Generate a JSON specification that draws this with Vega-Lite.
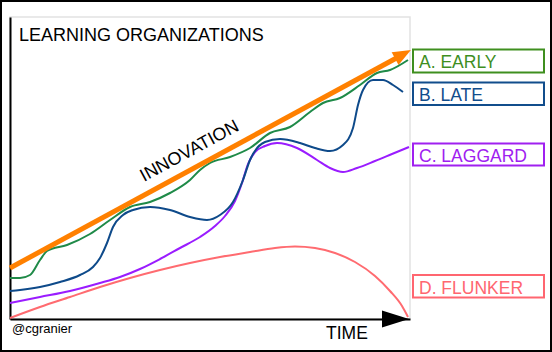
{
  "$schema": "https://vega.github.io/schema/vega-lite/v6.json",
  "width": 400,
  "height": 302,
  "autosize": {"type": "none"},
  "padding": {"left": 10, "top": 17, "right": 142, "bottom": 33},
  "background": "white",
  "config": {"view": {"stroke": "#e2e2e2", "strokeWidth": 1.5}, "font": "Liberation Sans"},
  "layer": [
    {
      "data": {"values": [
        {"series": "D", "t": 0, "v": 1}, {"series": "D", "t": 30, "v": 12}, {"series": "D", "t": 60, "v": 22}, {"series": "D", "t": 90, "v": 32}, {"series": "D", "t": 120, "v": 41}, {"series": "D", "t": 150, "v": 49}, {"series": "D", "t": 180, "v": 56}, {"series": "D", "t": 210, "v": 62}, {"series": "D", "t": 240, "v": 67}, {"series": "D", "t": 265, "v": 71}, {"series": "D", "t": 285, "v": 72.5}, {"series": "D", "t": 305, "v": 71}, {"series": "D", "t": 325, "v": 66}, {"series": "D", "t": 345, "v": 57}, {"series": "D", "t": 365, "v": 43}, {"series": "D", "t": 380, "v": 28}, {"series": "D", "t": 392, "v": 13}, {"series": "D", "t": 398, "v": 2},
        {"series": "C", "t": 0, "v": 16}, {"series": "C", "t": 30, "v": 22}, {"series": "C", "t": 60, "v": 28}, {"series": "C", "t": 90, "v": 36}, {"series": "C", "t": 110, "v": 42}, {"series": "C", "t": 130, "v": 50}, {"series": "C", "t": 150, "v": 60}, {"series": "C", "t": 170, "v": 71}, {"series": "C", "t": 190, "v": 82}, {"series": "C", "t": 205, "v": 93}, {"series": "C", "t": 215, "v": 103}, {"series": "C", "t": 225, "v": 118}, {"series": "C", "t": 232, "v": 136}, {"series": "C", "t": 238, "v": 155}, {"series": "C", "t": 245, "v": 167}, {"series": "C", "t": 255, "v": 173}, {"series": "C", "t": 267, "v": 176}, {"series": "C", "t": 287, "v": 171}, {"series": "C", "t": 307, "v": 159}, {"series": "C", "t": 320, "v": 151}, {"series": "C", "t": 333, "v": 147}, {"series": "C", "t": 347, "v": 151}, {"series": "C", "t": 365, "v": 158}, {"series": "C", "t": 382, "v": 165}, {"series": "C", "t": 399, "v": 172},
        {"series": "B", "t": 0, "v": 28}, {"series": "B", "t": 10, "v": 29}, {"series": "B", "t": 30, "v": 32}, {"series": "B", "t": 50, "v": 37}, {"series": "B", "t": 70, "v": 44}, {"series": "B", "t": 83, "v": 52}, {"series": "B", "t": 90, "v": 61}, {"series": "B", "t": 97, "v": 76}, {"series": "B", "t": 103, "v": 92}, {"series": "B", "t": 113, "v": 104}, {"series": "B", "t": 123, "v": 109}, {"series": "B", "t": 140, "v": 112}, {"series": "B", "t": 160, "v": 109}, {"series": "B", "t": 180, "v": 102}, {"series": "B", "t": 197, "v": 99}, {"series": "B", "t": 210, "v": 104}, {"series": "B", "t": 223, "v": 117}, {"series": "B", "t": 233, "v": 139}, {"series": "B", "t": 240, "v": 159}, {"series": "B", "t": 255, "v": 177}, {"series": "B", "t": 270, "v": 180}, {"series": "B", "t": 290, "v": 176}, {"series": "B", "t": 305, "v": 171}, {"series": "B", "t": 320, "v": 168}, {"series": "B", "t": 333, "v": 174}, {"series": "B", "t": 343, "v": 191}, {"series": "B", "t": 348, "v": 214}, {"series": "B", "t": 353, "v": 229}, {"series": "B", "t": 363, "v": 239}, {"series": "B", "t": 373, "v": 239}, {"series": "B", "t": 383, "v": 234}, {"series": "B", "t": 393, "v": 227},
        {"series": "A", "t": 0, "v": 41}, {"series": "A", "t": 10, "v": 41}, {"series": "A", "t": 20, "v": 44}, {"series": "A", "t": 30, "v": 59}, {"series": "A", "t": 37, "v": 68}, {"series": "A", "t": 57, "v": 74}, {"series": "A", "t": 80, "v": 85}, {"series": "A", "t": 100, "v": 99}, {"series": "A", "t": 120, "v": 112}, {"series": "A", "t": 140, "v": 117}, {"series": "A", "t": 160, "v": 126}, {"series": "A", "t": 180, "v": 139}, {"series": "A", "t": 190, "v": 149}, {"series": "A", "t": 200, "v": 156}, {"series": "A", "t": 220, "v": 162}, {"series": "A", "t": 240, "v": 171}, {"series": "A", "t": 260, "v": 186}, {"series": "A", "t": 280, "v": 192}, {"series": "A", "t": 300, "v": 207}, {"series": "A", "t": 313, "v": 216}, {"series": "A", "t": 330, "v": 221}, {"series": "A", "t": 350, "v": 234}, {"series": "A", "t": 367, "v": 246}, {"series": "A", "t": 380, "v": 249}, {"series": "A", "t": 398, "v": 259}
      ]},
      "mark": {"type": "line", "strokeWidth": 2, "interpolate": "monotone"},
      "encoding": {
        "x": {"field": "t", "type": "quantitative", "scale": {"domain": [0, 400], "nice": false, "zero": false}, "axis": {"domain": true, "domainColor": "black", "domainWidth": 2, "ticks": false, "labels": false, "grid": false, "title": null}},
        "y": {"field": "v", "type": "quantitative", "scale": {"domain": [0, 302], "nice": false, "zero": false}, "axis": {"domain": true, "domainColor": "black", "domainWidth": 2, "ticks": false, "labels": false, "grid": false, "title": null}},
        "color": {"field": "series", "type": "nominal", "scale": {"domain": ["A", "B", "C", "D"], "range": ["#1f8a48", "#0e4a8a", "#9a1cff", "#ff6b70"]}, "legend": null},
        "order": {"value": 0}
      }
    },
    {
      "data": {"values": [{"t": 0, "v": 51}, {"t": 392, "v": 264}]},
      "mark": {"type": "line", "strokeWidth": 5, "color": "#ff8000"},
      "encoding": {"x": {"field": "t", "type": "quantitative"}, "y": {"field": "v", "type": "quantitative"}}
    },
    {
      "data": {"values": [{"t": 393, "v": 264.7}]},
      "mark": {"type": "point", "shape": "M-1,-0.8L1,0L-1,0.8Z", "size": 324, "angle": -28.5, "filled": true, "opacity": 1, "color": "#ff8000"},
      "encoding": {"x": {"field": "t", "type": "quantitative"}, "y": {"field": "v", "type": "quantitative"}}
    },
    {
      "data": {"values": [{"t": 385.5, "v": 0}]},
      "mark": {"type": "point", "shape": "M-1,-0.63L1,0L-1,0.63Z", "size": 729, "filled": true, "opacity": 1, "color": "black"},
      "encoding": {"x": {"field": "t", "type": "quantitative"}, "y": {"field": "v", "type": "quantitative"}}
    },
    {
      "data": {"values": [
        {"series": "A", "t1": 403, "t2": 534, "v1": 269.5, "v2": 246.5},
        {"series": "B", "t1": 403, "t2": 534, "v1": 236.5, "v2": 214},
        {"series": "C", "t1": 403, "t2": 534, "v1": 175.5, "v2": 153.5},
        {"series": "D", "t1": 403, "t2": 534, "v1": 44, "v2": 21.5}
      ]},
      "mark": {"type": "rect", "fill": "white", "strokeWidth": 2},
      "encoding": {
        "x": {"field": "t1", "type": "quantitative"}, "x2": {"field": "t2"},
        "y": {"field": "v1", "type": "quantitative"}, "y2": {"field": "v2"},
        "stroke": {"field": "series", "type": "nominal", "scale": {"domain": ["A", "B", "C", "D"], "range": ["#3f8f1f", "#114d8c", "#a020f0", "#ff6670"]}, "legend": null}
      }
    },
    {
      "data": {"values": [
        {"series": "A", "label": "A. EARLY", "t": 409, "v": 251},
        {"series": "B", "label": "B. LATE", "t": 409, "v": 218},
        {"series": "C", "label": "C. LAGGARD", "t": 409, "v": 157},
        {"series": "D", "label": "D. FLUNKER", "t": 409, "v": 25}
      ]},
      "mark": {"type": "text", "align": "left", "baseline": "alphabetic", "fontSize": 17.5},
      "encoding": {
        "x": {"field": "t", "type": "quantitative"}, "y": {"field": "v", "type": "quantitative"},
        "text": {"field": "label"},
        "fill": {"field": "series", "type": "nominal", "scale": {"domain": ["A", "B", "C", "D"], "range": ["#3f8f1f", "#114d8c", "#a020f0", "#ff6670"]}, "legend": null}
      }
    },
    {
      "data": {"values": [{"label": "LEARNING ORGANIZATIONS", "t": 9, "v": 278}]},
      "mark": {"type": "text", "align": "left", "baseline": "alphabetic", "fontSize": 18, "color": "black"},
      "encoding": {"x": {"field": "t", "type": "quantitative"}, "y": {"field": "v", "type": "quantitative"}, "text": {"field": "label"}}
    },
    {
      "data": {"values": [{"label": "INNOVATION", "t": 134, "v": 137}]},
      "mark": {"type": "text", "align": "left", "baseline": "alphabetic", "fontSize": 18, "angle": -28.5, "color": "black"},
      "encoding": {"x": {"field": "t", "type": "quantitative"}, "y": {"field": "v", "type": "quantitative"}, "text": {"field": "label"}}
    },
    {
      "data": {"values": [{"label": "@cgranier", "t": 2, "v": -14}]},
      "mark": {"type": "text", "align": "left", "baseline": "alphabetic", "fontSize": 13, "color": "black"},
      "encoding": {"x": {"field": "t", "type": "quantitative"}, "y": {"field": "v", "type": "quantitative"}, "text": {"field": "label"}}
    },
    {
      "data": {"values": [{"label": "TIME", "t": 316, "v": -20}]},
      "mark": {"type": "text", "align": "left", "baseline": "alphabetic", "fontSize": 17.5, "color": "black"},
      "encoding": {"x": {"field": "t", "type": "quantitative"}, "y": {"field": "v", "type": "quantitative"}, "text": {"field": "label"}}
    },
    {
      "data": {"values": [{"t1": -9, "t2": 541, "v1": 318, "v2": -32}]},
      "mark": {"type": "rect", "fill": null, "fillOpacity": 0, "stroke": "black", "strokeWidth": 2},
      "encoding": {"x": {"field": "t1", "type": "quantitative"}, "x2": {"field": "t2"}, "y": {"field": "v1", "type": "quantitative"}, "y2": {"field": "v2"}}
    }
  ]
}
